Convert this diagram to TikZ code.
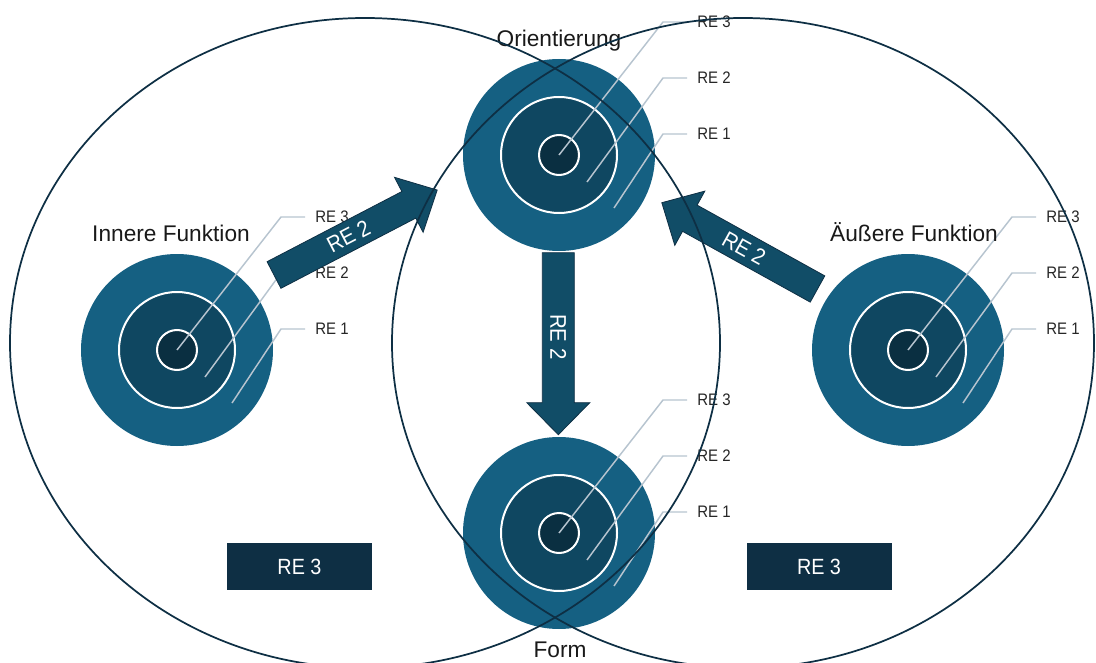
\documentclass[tikz,border=0pt]{standalone}
\usepackage{fontspec}
\setmainfont{Liberation Sans}
\newfontfamily\narrowsans[FakeStretch=0.9]{Liberation Sans}
\usetikzlibrary{calc}

\definecolor{ringouter}{HTML}{156082}
\definecolor{ringmid}{HTML}{0F4761}
\definecolor{ringinner}{HTML}{0A2F41}
\definecolor{navy}{HTML}{0E2F44}
\definecolor{arrowfill}{HTML}{114D67}
\definecolor{leader}{HTML}{B7C4CF}
\definecolor{labeltext}{HTML}{262626}

\tikzset{
  leaderline/.style={draw=leader, line width=1.1pt},
  relabel/.style={anchor=west, inner sep=0pt, text=labeltext,
    font=\narrowsans\fontsize{12.5}{14}\selectfont},
  title/.style={anchor=base, inner sep=0pt, text=black!90,
    font=\fontsize{17}{20}\selectfont},
  blockarrow/.style={fill=arrowfill, draw=navy, line width=0.6pt, line join=miter},
  arrowtext/.style={text=white, inner sep=0pt, transform shape,
    font=\narrowsans\fontsize{17}{20}\selectfont},
  rebox/.style={fill=navy, text=white, inner sep=0pt,
    minimum width=108.75pt, minimum height=35.25pt,
    font=\narrowsans\fontsize{16.5}{19}\selectfont},
  zone/.style={draw=navy, line width=1.3pt},
  % concentric rings with their three leader lines and labels
  pics/target/.style={code={
    \coordinate (-c) at (0,0);
    \fill[ringouter] (-c) circle (96);
    \filldraw[fill=ringmid, draw=white, line width=1.5pt] (-c) circle (58);
    \filldraw[fill=ringinner, draw=white, line width=1.5pt] (-c) circle (20);
    \node[relabel] (-l3) at (138,-133) {RE 3};
    \node[relabel] (-l2) at (138,-77) {RE 2};
    \node[relabel] (-l1) at (138,-21) {RE 1};
    \draw[leaderline] (-c) -- (104,-133) -- (-l3.west -| 128,0);
    \draw[leaderline] (28,27) -- (104,-77) -- (-l2.west -| 128,0);
    \draw[leaderline] (55,53) -- (104,-21) -- (-l1.west -| 128,0);
  }},
}

\begin{document}
\begin{tikzpicture}[x=0.75pt, y=-0.75pt]
  \useasboundingbox (0,0) rectangle (1096,663);
  \clip (0,0) rectangle (1096,663);

  % the four ring diagrams
  \pic (orient) at (559,155) {target};
  \pic (inner)  at (177,350) {target};
  \pic (outer)  at (908,350) {target};
  \pic (form)   at (559,533) {target};

  % titles
  \node[title] (tOrient) at (559,46.7)  {Orientierung};
  \node[title] (tInner)  at (171,241.7) {Innere Funktion};
  \node[title] (tOuter)  at (914,241.7) {Äußere Funktion};
  \node[title] (tForm)   at (560,657)   {Form};

  % block arrows
  \coordinate (a1tail) at (274,275);
  \begin{scope}[shift={(a1tail)}, rotate=27.5]
    \path[blockarrow] (0,-15) -- (152,-15) -- (152,-31) -- (184,0)
      -- (152,31) -- (152,15) -- (0,15) -- cycle;
    \node[arrowtext] (a1text) at (84,0) {RE 2};
  \end{scope}

  \coordinate (a2tail) at (817.5,289);
  \begin{scope}[shift={(a2tail)}, rotate=151]
    \path[blockarrow] (0,-15) -- (146,-15) -- (146,-31) -- (178,0)
      -- (146,31) -- (146,15) -- (0,15) -- cycle;
    \node[arrowtext, rotate=180] (a2text) at (84,0) {RE 2};
  \end{scope}

  \coordinate (a3tail) at (558.3,252.7);
  \begin{scope}[shift={(a3tail)}, rotate=-90]
    \path[blockarrow] (0,-16) -- (150,-16) -- (150,-31.5) -- (182,0)
      -- (150,31.5) -- (150,16) -- (0,16) -- cycle;
    \node[arrowtext] (a3text) at (84,0) {RE 2};
  \end{scope}

  % RE 3 boxes
  \node[rebox] (boxL) at (299.5,566.5) {RE 3};
  \node[rebox] (boxR) at (819,566.5) {RE 3};

  % the two overlapping zones
  \draw[zone] (365,343) ellipse [x radius=355, y radius=325];
  \draw[zone] (743,343) ellipse [x radius=351, y radius=325];
\end{tikzpicture}
\end{document}
